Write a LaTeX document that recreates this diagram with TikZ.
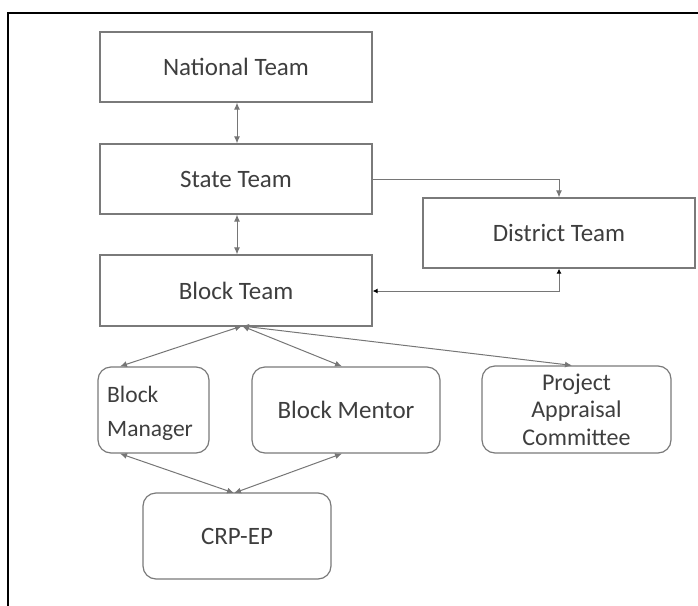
\documentclass[tikz,border=0pt]{standalone}
\usepackage{fontspec}
\setmainfont{Carlito}
\usetikzlibrary{arrows.meta}
\definecolor{boxline}{HTML}{7A7A7A}
\definecolor{txt}{HTML}{3E3E3E}
\definecolor{arr}{HTML}{767676}
\tikzset{
  teambox/.style={draw=boxline, line width=1.2pt, rectangle, minimum width=272pt,
    minimum height=70pt, inner sep=0pt, text=txt,
    font=\fontsize{25}{28}\selectfont},
  rolebox/.style={draw=boxline, line width=1.2pt, rectangle, rounded corners=13pt,
    minimum height=86pt, inner sep=0pt, text=txt,
    font=\fontsize{25}{28}\selectfont},
  link/.style={draw=arr, line width=1pt, {Latex[length=7pt,width=6pt]}-{Latex[length=7pt,width=6pt]}},
  oneway/.style={draw=arr, line width=1pt, -{Latex[length=7pt,width=6pt]}},
  darklink/.style={draw=arr, line width=1pt, {Latex[length=5pt,width=5pt,black]}-{Latex[length=5pt,width=5pt,black]}},
}
\begin{document}
\begin{tikzpicture}[x=1pt,y=-1pt]
  \useasboundingbox (0,0) rectangle (698,605);
  % outer frame, only its top and left sides fall inside the page
  \begin{scope}
    \clip (0,0) rectangle (698,605);
    \draw[line width=1.6pt, black] (8,13) rectangle (720,640);
  \end{scope}

  % management levels
  \node[teambox] (nat)      at (236,67)    {National Team};
  \node[teambox] (state)    at (236,179)   {State Team};
  \node[teambox, minimum height=71pt] (block) at (236,290.5) {Block Team};
  \node[teambox] (district) at (559,233)   {District Team};

  % block-level roles
  \node[rolebox, minimum width=111pt] (bm) at (153.5,410) {};
  \node[anchor=west, align=left, text=txt, inner sep=0pt,
        font=\fontsize{23.5}{34}\selectfont] (bmtext) at (107,413) {Block\\Manager};
  \node[rolebox, minimum width=188pt] (mentor) at (346,410) {Block Mentor};
  \node[rolebox, minimum width=189pt, minimum height=87pt, align=center,
        font=\fontsize{24}{27.5}\selectfont] (pac) at (576.5,409.5) {Project\\Appraisal\\Committee};
  \node[rolebox, minimum width=188pt] (crp) at (237,536) {CRP-EP};

  % vertical links
  \draw[link] (nat.south -| 237,0) -- (state.north -| 237,0);
  \draw[link] (state.south -| 237,0) -- (block.north -| 237,0);

  % state to district, district back to block
  \coordinate (sd) at (559,179);
  \draw[oneway] (state.east) -- (sd) -- (district.north);
  \coordinate (db) at (559,291);
  \draw[darklink] (district.south) -- (db) -- (block.east |- db);

  % block team to roles
  \coordinate (bt) at (242,326);
  \draw[link] (bt) -- (bm.north -| 120,0);
  \draw[link] (bt) -- (mentor.north -| 342,0);
  \draw[link] (bt) -- (pac.north -| 572,0);

  % roles to CRP-EP
  \coordinate (cp) at (234,493);
  \draw[link] (bm.south -| 120,0) -- (cp);
  \draw[link] (mentor.south -| 342,0) -- (cp);
\end{tikzpicture}
\end{document}
